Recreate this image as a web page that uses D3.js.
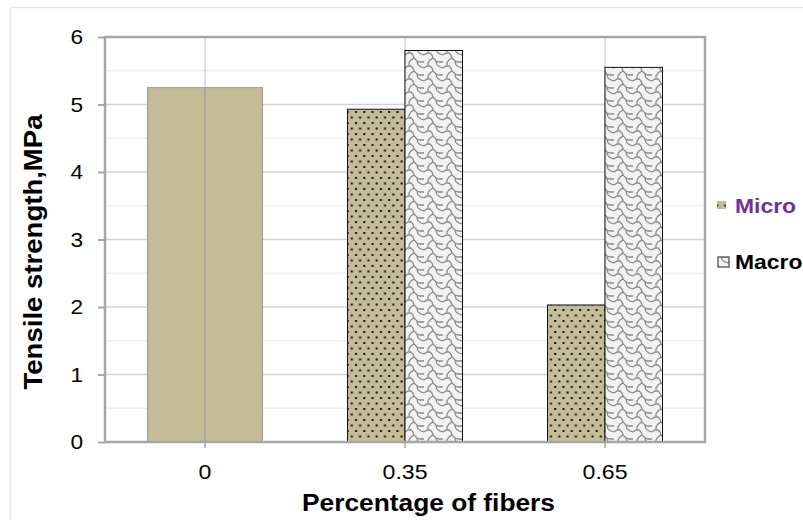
<!DOCTYPE html>
<html><head><meta charset="utf-8">
<script src="https://cdn.jsdelivr.net/npm/d3@7"></script>
<style>body{margin:0;background:#fff;} svg{display:block;font-family:Arial,"Liberation Sans",sans-serif;}</style>
</head><body>
<svg id="c" width="803" height="520"></svg>
<script>
const categories = ["0", "0.35", "0.65"];
const seriesNames = ["Micro", "Macro"];
const microValues = [5.25, 4.93, 2.03];
const macroValues = [5.25, 5.80, 5.55];
const yTicks = [0, 1, 2, 3, 4, 5, 6];
const yMinorTicks = [0.5, 1.5, 2.5, 3.5, 4.5, 5.5];
const plainCategory = "0";

const svg = d3.select("#c");
const L = 105, R = 705, T = 37, B = 442;
const FF = "Arial,'Liberation Sans',sans-serif";

const defs = svg.append("defs");
// dotted pattern for Micro
const pd = defs.append("pattern").attr("id","dots").attr("patternUnits","userSpaceOnUse")
  .attr("width",8.3).attr("height",11).attr("x",L).attr("y",0);
pd.append("rect").attr("width",8.3).attr("height",11).attr("fill","#C4BC96");
pd.append("rect").attr("x",1).attr("y",1).attr("width",2).attr("height",2).attr("fill","#111");
pd.append("rect").attr("x",5.1).attr("y",6.5).attr("width",2).attr("height",2).attr("fill","#111");
// shingle pattern for Macro
const ps = defs.append("pattern").attr("id","shingle").attr("patternUnits","userSpaceOnUse")
  .attr("width",19).attr("height",13).attr("x",405).attr("y",0);
ps.append("rect").attr("width",19).attr("height",13).attr("fill","#F2F2F2");
ps.append("path").attr("d","M0,3 L3,1 L6,1 L8,3 L9,6 L12,9 L15,10 L19,10 M9,6 L6,8 L4,11 L4,13 M13,0 L16,2 L19,3 M12,9 L13,13")
  .attr("fill","none").attr("stroke","#8a8a8a").attr("stroke-width",1.3);

// outer chart border
svg.append("rect").attr("x",10.5).attr("y",7.5).attr("width",800).attr("height",520)
  .attr("fill","none").attr("stroke","#E8E8DC").attr("stroke-width",1.5);

const x = d3.scaleBand().domain(categories).range([L, R]).padding(0);
const xi = d3.scaleBand().domain(seriesNames).range([0, x.bandwidth()]).paddingInner(0).paddingOuter(0.739);
const y = d3.scaleLinear().domain([0, 6]).range([B, T]);

// minor gridlines
svg.append("g").selectAll("line").data(yMinorTicks).join("line")
  .attr("x1",L).attr("x2",R).attr("y1",d=>y(d)).attr("y2",d=>y(d))
  .attr("stroke","#EDEDED").attr("stroke-width",1.5);
// major gridlines
svg.append("g").selectAll("line").data(yTicks.filter(d=>d>0 && d<6)).join("line")
  .attr("x1",L).attr("x2",R).attr("y1",d=>y(d)).attr("y2",d=>y(d))
  .attr("stroke","#D4D4D4").attr("stroke-width",1.5);
// vertical gridlines at category centers
svg.append("g").selectAll("line").data(categories).join("line")
  .attr("x1",d=>x(d)+x.bandwidth()/2).attr("x2",d=>x(d)+x.bandwidth()/2)
  .attr("y1",T).attr("y2",B).attr("stroke","#BDBDBD").attr("stroke-width",1);

// bars
const values = {Micro: microValues, Macro: macroValues};
const barData = [];
categories.forEach((c,i)=>seriesNames.forEach(s=>barData.push({c, s, v: values[s][i]})));
svg.append("g").selectAll("rect").data(barData).join("rect")
  .attr("x",d=>x(d.c)+xi(d.s)).attr("width",xi.bandwidth())
  .attr("y",d=>y(d.v)).attr("height",d=>y(0)-y(d.v))
  .attr("fill",d=>d.c===plainCategory ? "#C4BC96" : (d.s==="Micro" ? "url(#dots)" : "url(#shingle)"))
  .attr("stroke",d=>d.c===plainCategory ? "#9A9A9A" : "#111")
  .attr("stroke-width",1);

// plot frame
svg.append("rect").attr("x",L).attr("y",T).attr("width",R-L).attr("height",B-T)
  .attr("fill","none").attr("stroke","#A6A6A6").attr("stroke-width",2.5);

function stretch(sel, k){ sel.each(function(){ const w=this.getComputedTextLength(); d3.select(this).attr("textLength", w*k).attr("lengthAdjust","spacingAndGlyphs"); }); }

// y axis
const yAxis = svg.append("g").attr("transform",`translate(${L},0)`)
  .call(d3.axisLeft(y).tickValues(yTicks).tickFormat(d3.format("d")).tickSize(7).tickPadding(15));
yAxis.select(".domain").remove();
yAxis.selectAll(".tick line").attr("stroke","#A6A6A6").attr("stroke-width",2);
yAxis.selectAll(".tick text").attr("font-size",21).attr("fill","#000").attr("font-family",FF);
stretch(yAxis.selectAll(".tick text"), 1.08);

// x axis
const xAxis = svg.append("g").attr("transform",`translate(0,${B})`)
  .call(d3.axisBottom(x).tickSize(6).tickPadding(16));
xAxis.select(".domain").remove();
xAxis.selectAll(".tick line").attr("stroke","#A6A6A6").attr("stroke-width",1.5);
xAxis.selectAll(".tick text").attr("font-size",21).attr("fill","#000").attr("font-family",FF);
stretch(xAxis.selectAll(".tick text"), 1.1);

// axis titles
svg.append("text").attr("x",428.5).attr("y",511).attr("text-anchor","middle")
  .attr("font-size",23).attr("font-weight","bold").attr("textLength",253).attr("lengthAdjust","spacingAndGlyphs")
  .text("Percentage of fibers");
svg.append("text").attr("transform","translate(42,252) rotate(-90)").attr("text-anchor","middle")
  .attr("font-size",26).attr("font-weight","bold").attr("textLength",275).attr("lengthAdjust","spacingAndGlyphs")
  .text("Tensile strength,MPa");

// legend
const leg = [{s:"Micro", fill:"url(#dots)", color:"#7030A0", sx:717, sy:201, sw:9, sh:8, stroke:"none", ty:213},
             {s:"Macro", fill:"url(#shingle)", color:"#000", sx:718, sy:257, sw:11, sh:10, stroke:"#666", ty:269}];
const lg = svg.append("g").selectAll("g").data(leg).join("g");
lg.append("rect").attr("x",d=>d.sx).attr("y",d=>d.sy).attr("width",d=>d.sw).attr("height",d=>d.sh)
  .attr("fill",d=>d.fill).attr("stroke",d=>d.stroke).attr("stroke-width",1.5);
const lt = lg.append("text").attr("x",735).attr("y",d=>d.ty)
  .attr("font-size",21).attr("font-weight","bold").attr("fill",d=>d.color).text(d=>d.s);
stretch(lt, 1.09);
</script>
</body></html>
